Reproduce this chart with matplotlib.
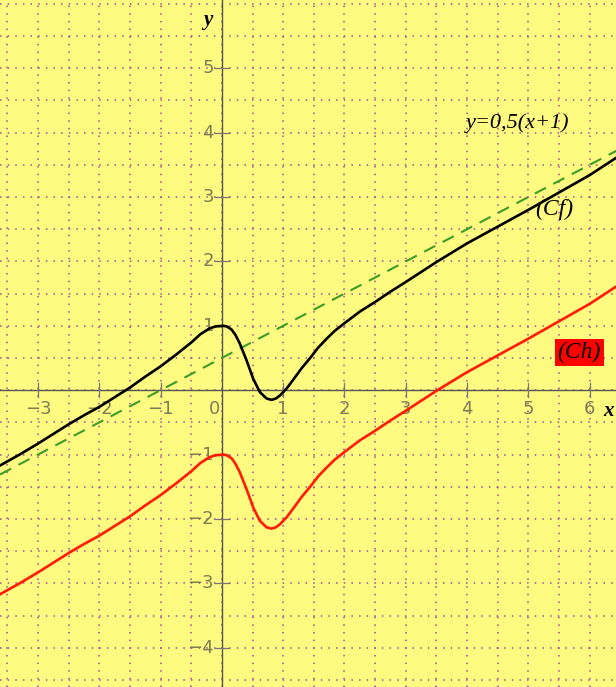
import numpy as np
import matplotlib
matplotlib.use("Agg")
import matplotlib.pyplot as plt

# courbe (Cf)
cf_x = [-3.62, -3.3, -3.0, -2.75, -2.5, -2.25, -2.0, -1.75, -1.5, -1.25, -1.0, -0.75,
        -0.5, -0.35, -0.2, -0.1, 0.02, 0.08, 0.16, 0.22, 0.29, 0.4, 0.51, 0.62, 0.73,
        0.81, 0.88, 0.95, 1.06, 1.17, 1.3, 1.44, 1.57, 1.71, 1.84, 2.0, 2.25, 2.5,
        2.75, 3.0, 3.5, 4.0, 4.5, 5.0, 5.5, 6.0, 6.45]
cf_y = [-1.17, -1.0, -0.83, -0.68, -0.53, -0.39, -0.26, -0.11, 0.04, 0.21, 0.37, 0.55,
        0.74, 0.87, 0.96, 0.99, 1.0, 0.99, 0.94, 0.86, 0.73, 0.47, 0.18, -0.03, -0.13,
        -0.15, -0.13, -0.08, 0.03, 0.17, 0.34, 0.50, 0.66, 0.80, 0.92, 1.04, 1.22, 1.37,
        1.53, 1.68, 1.99, 2.28, 2.54, 2.80, 3.07, 3.34, 3.62]

# courbe (Ch)
ch_x = cf_x
ch_y = [-3.17, -3.0, -2.83, -2.68, -2.53, -2.39, -2.26, -2.11, -1.96, -1.79, -1.63, -1.45,
        -1.26, -1.13, -1.04, -1.01, -1.0, -1.01, -1.06, -1.14, -1.27, -1.53, -1.82, -2.03, -2.13,
        -2.15, -2.13, -2.08, -1.97, -1.83, -1.66, -1.50, -1.34, -1.20, -1.08, -0.96, -0.78, -0.63,
        -0.47, -0.32, -0.01, 0.28, 0.54, 0.80, 1.07, 1.34, 1.62]

# asymptote y = 0,5(x+1)
asym_x = [-3.62, 6.45]
asym_y = [-1.31, 3.725]

x_ticks = [-3, -2, -1, 0, 1, 2, 3, 4, 5, 6]
y_ticks = [-4, -3, -2, -1, 1, 2, 3, 4, 5]

xmin, xmax = -3.62, 6.43
ymin, ymax = -4.61, 6.06

bg = '#fffa80'
grid_col = '#a44c94'
lab_col = '#7d7d55'

fig = plt.figure(figsize=(6.16, 6.87), dpi=100)
fig.patch.set_facecolor(bg)
ax = fig.add_axes([0, 0, 1, 1])
ax.set_facecolor(bg)
ax.set_xlim(xmin, xmax)
ax.set_ylim(ymin, ymax)
for s in ax.spines.values():
    s.set_visible(False)
ax.set_xticks([])
ax.set_yticks([])

# grille pointillée tous les 0,5
for gx in np.arange(-3.5, 6.5, 0.5):
    ax.axvline(gx, color=grid_col, lw=1.1, ls=(0, (1, 4)), zorder=1)
for gy in np.arange(-4.5, 6.1, 0.5):
    ax.axhline(gy, color=grid_col, lw=1.1, ls=(0, (1, 4)), zorder=1)

# axes
ax.axhline(0, color='#555555', lw=1.0, zorder=2)
ax.axvline(0, color='#555555', lw=1.0, zorder=2)

tx = 7 / 61.3
ty = 7 / 64.4
for t in x_ticks:
    if t != 0:
        ax.plot([t, t], [-ty, ty], color='#777777', lw=0.9, zorder=2)
    if t == 0:
        ax.text(-0.03, -0.29, '0', color=lab_col, fontsize=13, ha='right', va='center')
    else:
        ax.text(t, -0.29, str(t).replace('-', '\u2212'), color=lab_col, fontsize=13,
                ha='center', va='center')
for t in y_ticks:
    ax.plot([-tx, tx], [t, t], color='#777777', lw=0.9, zorder=2)
    ax.text(-0.13, t, str(t).replace('-', '\u2212'), color=lab_col, fontsize=13,
            ha='right', va='center')

# courbes
ax.plot(asym_x, asym_y, color='#3c9c28', lw=1.5, ls=(0, (6, 4)), zorder=3)
ax.plot(cf_x, cf_y, color='black', lw=1.9, zorder=4, solid_joinstyle='round')
ax.plot(ch_x, ch_y, color='#ff1a00', lw=1.9, zorder=4, solid_joinstyle='round')

serif = ['Liberation Serif', 'DejaVu Serif']
ax.text(4.83, 4.15, 'y=0,5(x+1)', family=serif, style='italic', fontsize=16,
        ha='center', va='center')
ax.text(5.43, 2.8, '(Cf)', family=serif, style='italic', fontsize=17,
        ha='center', va='center')
ax.text(5.83, 0.59, '(Ch)', family=serif, style='italic', fontsize=17,
        ha='center', va='center',
        bbox=dict(boxstyle='square,pad=0.12', fc='#ff0000', ec='none'))
ax.text(-0.23, 5.75, 'y', family=serif, style='italic', weight='bold', fontsize=15,
        ha='center', va='center')
ax.text(6.31, -0.33, 'x', family=serif, style='italic', weight='bold', fontsize=15,
        ha='center', va='center')

fig.savefig('out.png', dpi=100, facecolor=bg)
